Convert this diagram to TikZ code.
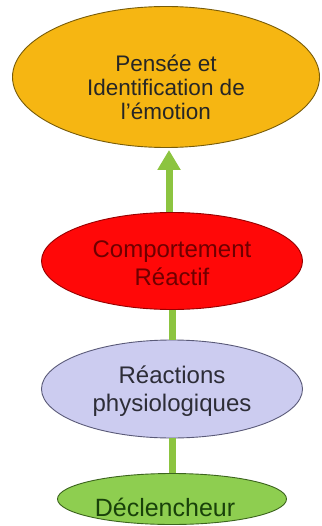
\documentclass[tikz,border=0pt]{standalone}
\usepackage{fontspec}
\setmainfont{Liberation Sans}
\usetikzlibrary{shapes.geometric,arrows.meta}
\definecolor{ambre}{RGB}{246,182,18}
\definecolor{ambreline}{RGB}{120,92,10}
\definecolor{rouge}{RGB}{255,8,8}
\definecolor{rougeline}{RGB}{150,0,0}
\definecolor{rougetxt}{RGB}{110,0,0}
\definecolor{lavande}{RGB}{204,204,240}
\definecolor{lavandeline}{RGB}{90,90,120}
\definecolor{lavandetxt}{RGB}{45,45,55}
\definecolor{vert}{RGB}{142,206,80}
\definecolor{vertline}{RGB}{60,100,30}
\definecolor{verttxt}{RGB}{25,65,10}
\definecolor{lien}{RGB}{140,196,64}
\tikzset{
  bulle/.style={ellipse, inner sep=0pt, line width=0.9pt},
  texte/.style={align=center, inner sep=0pt},
  lien/.style={draw=lien, line width=7pt},
  fleche/.style={lien, -{Triangle[width=22pt,length=20pt]}, shorten >=2pt}
}
\begin{document}
\begin{tikzpicture}[x=1pt,y=-1pt]
  \useasboundingbox (0,0) rectangle (321,526);
  % ellipses
  \node[bulle, fill=ambre, draw=ambreline, minimum width=307pt, minimum height=141pt] (pensee) at (166,77) {};
  \node[bulle, fill=rouge, draw=rougeline, minimum width=261pt, minimum height=97pt] (comport) at (172,261) {};
  \node[bulle, fill=lavande, draw=lavandeline, minimum width=261pt, minimum height=98pt] (reactions) at (172,389) {};
  \node[bulle, fill=vert, draw=vertline, minimum width=229pt, minimum height=51pt] (declencheur) at (172,499) {};
  % connectors
  \draw[lien] (declencheur.north) -- (reactions.south);
  \draw[lien] (reactions.north) -- (comport.south);
  \draw[fleche] ([xshift=-3pt]comport.north) -- ([xshift=-3pt]comport.north |- pensee.south);
  % labels
  \node[texte, font=\fontsize{22.5}{24}\selectfont, text=black!85] (penseetxt) at (166,87)
    {Pensée et\\Identification de\\l’émotion};
  \node[texte, font=\fontsize{24}{28}\selectfont, text=rougetxt] (comporttxt) at (172,263)
    {Comportement\\Réactif};
  \node[texte, font=\fontsize{24}{28}\selectfont, text=lavandetxt] (reactionstxt) at (172,391)
    {Réactions\\physiologiques};
  \node[texte, font=\fontsize{25}{28}\selectfont, text=verttxt] (declencheurtxt) at (165,507)
    {Déclencheur};
\end{tikzpicture}
\end{document}
